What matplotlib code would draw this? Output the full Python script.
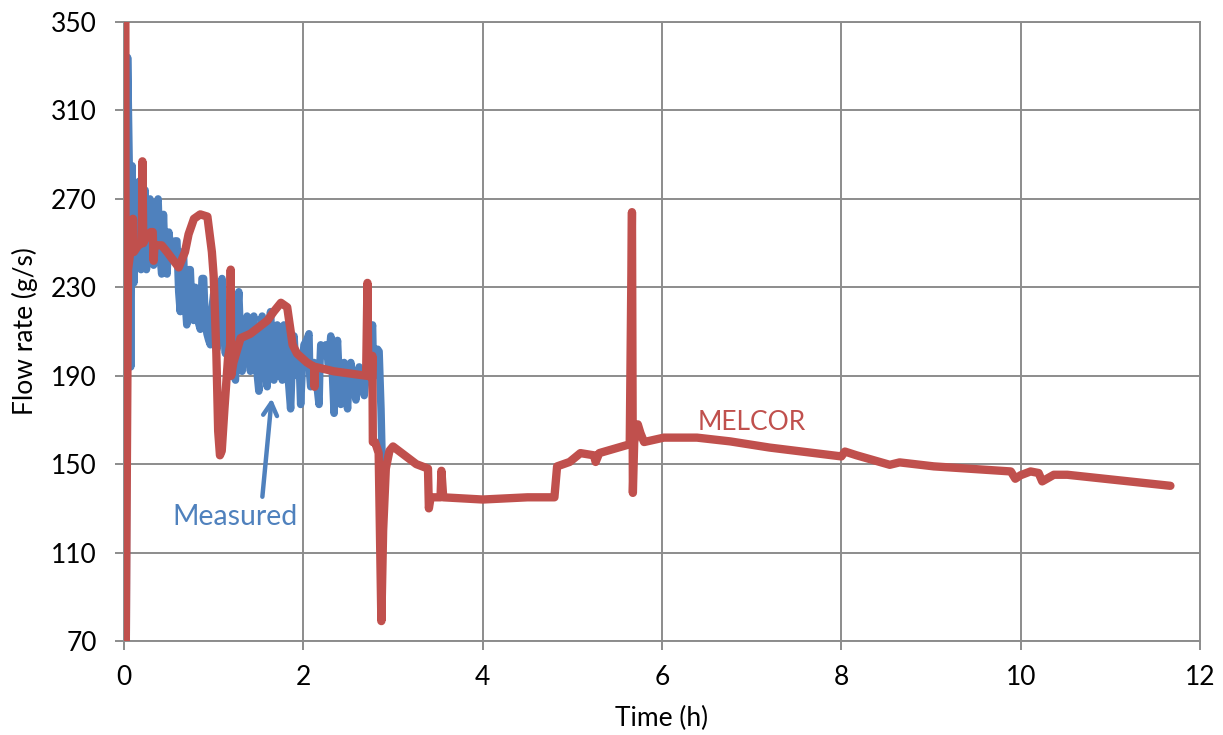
import matplotlib
matplotlib.use("Agg")
import matplotlib.pyplot as plt

plt.rcParams['font.family'] = ['Lato', 'DejaVu Sans']

# MELCOR calculation (h, g/s)
melcor_t = [0.015, 0.02, 0.045, 0.07, 0.095, 0.10, 0.11, 0.16, 0.20, 0.205,
            0.215, 0.25, 0.30, 0.32, 0.33, 0.34, 0.42, 0.48, 0.61, 0.68,
            0.72, 0.78, 0.85, 0.93, 0.98, 1.00, 1.03, 1.05, 1.07, 1.09,
            1.12, 1.16, 1.185, 1.19, 1.195, 1.22, 1.30, 1.41, 1.60, 1.67,
            1.75, 1.82, 1.88, 1.93, 2.04, 2.12, 2.125, 2.13, 2.34, 2.70,
            2.715, 2.725, 2.765, 2.77, 2.775, 2.80, 2.84, 2.87, 2.89, 2.92,
            2.96, 3.00, 3.26, 3.39, 3.40, 3.42, 3.53, 3.54, 3.56, 4.00,
            4.50, 4.80, 4.83, 4.97, 5.09, 5.24, 5.26, 5.30, 5.64, 5.665,
            5.675, 5.69, 5.73, 5.76, 5.80, 6.02, 6.39, 6.76, 7.20, 8.00,
            8.04, 8.17, 8.54, 8.65, 9.03, 9.89, 9.94, 10.00, 10.11, 10.20,
            10.24, 10.37, 10.52, 11.67]
melcor_v = [356, 70, 238, 246, 246, 261, 246, 249, 250, 287,
            250, 253, 255, 255, 242, 249, 249, 246, 239, 246,
            254, 261, 263, 262, 246, 235, 200, 165, 154, 156,
            175, 198, 204, 238, 190, 196, 207, 209, 215, 219,
            223, 221, 204, 200, 196, 194, 185, 194, 192, 190,
            232, 190, 189, 199, 160, 160, 155, 79, 120, 148,
            156, 158, 150, 148, 130, 135, 135, 147, 135, 134,
            135, 135, 149, 151, 155, 154, 151, 155, 159, 264,
            137, 160, 168, 164, 160, 162, 162, 160.3, 157.5, 153.5,
            155.7, 154, 149.7, 150.8, 149, 146.7, 143.4, 145, 146.7, 146,
            142.2, 145.2, 145.2, 140.2]

# measured flow rate (h, g/s)
meas_t = [0.025, 0.04, 0.06, 0.075, 0.09, 0.11, 0.125, 0.15, 0.17, 0.19,
          0.21, 0.235, 0.25, 0.27, 0.29, 0.31, 0.33, 0.35, 0.38, 0.40,
          0.42, 0.44, 0.46, 0.48, 0.50, 0.515, 0.535, 0.55, 0.57, 0.59,
          0.61, 0.627, 0.645, 0.664, 0.68, 0.70, 0.72, 0.739, 0.755, 0.776,
          0.795, 0.813, 0.83, 0.851, 0.87, 0.888, 0.905, 0.925, 0.945, 0.963,
          0.98, 1.00, 1.02, 1.037, 1.06, 1.093, 1.11, 1.131, 1.15, 1.168,
          1.185, 1.205, 1.225, 1.243, 1.26, 1.28, 1.30, 1.317, 1.345, 1.373,
          1.39, 1.41, 1.43, 1.448, 1.475, 1.504, 1.52, 1.541, 1.57, 1.597,
          1.615, 1.634, 1.655, 1.672, 1.69, 1.709, 1.735, 1.765, 1.775, 1.784,
          1.82, 1.858, 1.875, 1.896, 1.915, 1.933, 1.95, 1.97, 1.99, 2.007,
          2.035, 2.063, 2.072, 2.082, 2.10, 2.119, 2.145, 2.175, 2.185, 2.194,
          2.22, 2.25, 2.28, 2.306, 2.325, 2.343, 2.36, 2.381, 2.40, 2.418,
          2.435, 2.455, 2.475, 2.493, 2.51, 2.53, 2.56, 2.586, 2.605, 2.623,
          2.65, 2.679, 2.70, 2.716, 2.745, 2.772, 2.78, 2.791, 2.81, 2.828,
          2.845, 2.866, 2.88]
meas_v = [70, 334, 280, 194, 285, 232, 262, 240, 278, 238,
          262, 274, 238, 262, 270, 244, 240, 266, 270, 245,
          236, 263, 240, 236, 255, 249, 243, 244, 251, 251,
          228, 219, 246, 245, 225, 213, 238, 238, 222, 215,
          230, 228, 214, 211, 234, 234, 215, 209, 206, 204,
          220, 227, 210, 202, 222, 234, 210, 200, 215, 223,
          205, 198, 190, 188, 215, 228, 205, 192, 210, 217,
          200, 192, 210, 217, 195, 183, 205, 217, 195, 185,
          210, 219, 200, 188, 205, 213, 200, 188, 205, 213,
          195, 175, 195, 208, 195, 190, 200, 177, 195, 204,
          206, 209, 190, 185, 193, 196, 188, 177, 195, 204,
          200, 204, 195, 208, 190, 173, 195, 206, 188, 177,
          190, 196, 185, 175, 190, 196, 186, 179, 190, 194,
          186, 181, 190, 194, 205, 213, 195, 190, 200, 202,
          201, 175, 150]

red = '#C0504D'
blue = '#4F81BD'
grid_c = '#8C8C8C'

fig = plt.figure(figsize=(12.23, 7.35), dpi=100)
ax = fig.add_axes([0.1014, 0.1279, 0.8798, 0.8421])

ax.plot(meas_t, meas_v, color=blue, lw=5.4, solid_joinstyle='round', solid_capstyle='round', zorder=3)
ax.plot(melcor_t, melcor_v, color=red, lw=6.0, solid_joinstyle='round', solid_capstyle='round', zorder=4)

ax.set_xlim(0, 12)
ax.set_ylim(70, 350)
ax.set_xticks(range(0, 13, 2))
ax.set_yticks(range(70, 351, 40))
ax.grid(True, color=grid_c, lw=1.4)
ax.set_axisbelow(True)
for s in ax.spines.values():
    s.set_color(grid_c)
    s.set_linewidth(1.4)
ax.tick_params(axis='both', colors=grid_c, width=1.4, length=6.5, labelcolor='black', labelsize=19)
ax.tick_params(axis='y', pad=13)
ax.tick_params(axis='x', pad=11)

ax.set_xlabel('Time (h)', fontsize=19)
ax.set_ylabel('Flow rate (g/s)', fontsize=19)
ax.xaxis.set_label_coords(0.5, -0.105)
ax.yaxis.set_label_coords(-0.08, 0.5)

ax.text(6.40, 169, 'MELCOR', color=red, fontsize=19, va='center', ha='left')
ax.text(0.535, 126, 'Measured', color=blue, fontsize=20.5, va='center', ha='left')
ax.annotate('', xy=(1.65, 181), xytext=(1.54, 134),
            arrowprops=dict(arrowstyle='->,head_length=0.9,head_width=0.5', color=blue, lw=3.2))

fig.savefig('out.png', dpi=100)
